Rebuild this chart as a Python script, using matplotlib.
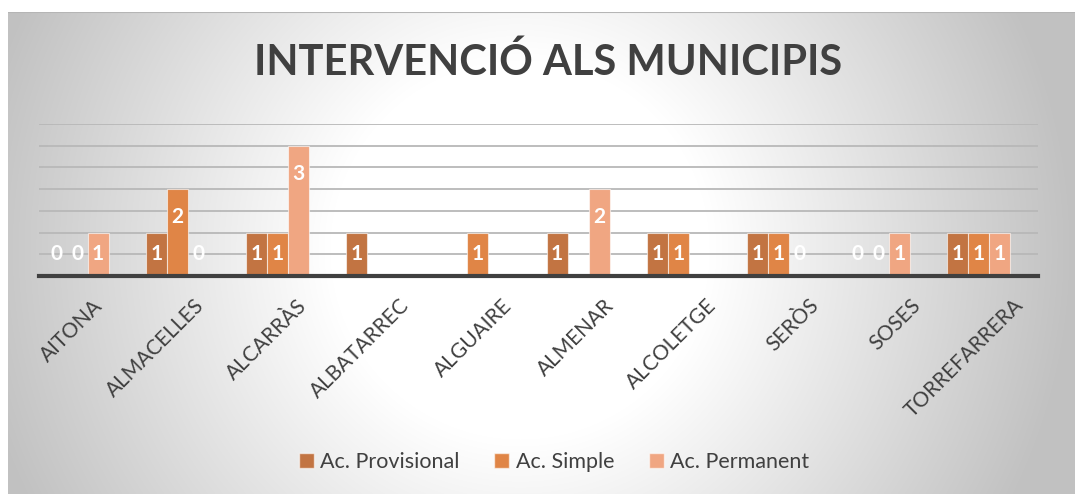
import numpy as np
import matplotlib
matplotlib.use("Agg")
import matplotlib.pyplot as plt
from matplotlib.patches import Patch

plt.rcParams['font.family'] = ['Lato', 'DejaVu Sans']

municipis = ['AITONA', 'ALMACELLES', 'ALCARRÀS', 'ALBATARREC', 'ALGUAIRE',
             'ALMENAR', 'ALCOLETGE', 'SERÒS', 'SOSES', 'TORREFARRERA']
# None = cel·la buida
provisional = [0, 1, 1, 1, None, 1, 1, 1, 0, 1]
simple = [0, 2, 1, None, 1, None, 1, 1, 0, 1]
permanent = [1, 0, 3, None, None, 2, None, 0, 1, 1]

series = [('Ac. Provisional', provisional, '#c27442'),
          ('Ac. Simple', simple, '#e08546'),
          ('Ac. Permanent', permanent, '#f0a682')]

W, H = 1075, 494
fig = plt.figure(figsize=(W / 100, H / 100), dpi=100)

# fons amb degradat radial
bg = fig.add_axes([8 / W, 0, 1 - 8 / W, 1 - 12 / H], zorder=-2)
yy, xx = np.mgrid[0:482, 8:1075]
d = np.hypot(xx - 520, (yy + 12) - 250)
t = np.clip((d - 190) / 360, 0, 1)
edge = 0.76
img = 1 - t * (1 - edge)
bg.imshow(np.dstack([img, img, img]), extent=[0, 1, 0, 1], aspect='auto', origin='upper')
bg.axhline(1, color='#b5b5b5', lw=1.5)
bg.set_axis_off()

ax = fig.add_axes([39 / W, 1 - 276 / H, 999 / W, 152 / H])
ax.set_facecolor('none')

x = np.arange(len(municipis))
bw = 0.21
for i, (name, vals, col) in enumerate(series):
    pos = x + (i - 1) * bw
    hv = [v if v is not None else 0 for v in vals]
    ax.bar(pos, hv, width=bw, color=col, edgecolor=(1, 1, 1, 0.6), linewidth=0.8, zorder=3, label=name)
    for p, v in zip(pos, vals):
        if v is None:
            continue
        ly = v - 0.65 if v >= 2 else 0.5
        ax.text(p, ly, str(v), ha='center', va='center', color='white',
                fontsize=15, fontweight='bold', zorder=4)

ax.set_xlim(-0.38, 9.59)
ax.set_ylim(0, 3.5)
ax.set_yticks(np.arange(0.5, 3.51, 0.5))
ax.yaxis.grid(True, color='#b8b8b8', lw=1.3, zorder=0)
ax.set_axisbelow(True)
ax.tick_params(axis='y', left=False, labelleft=False)
ax.tick_params(axis='x', length=0, pad=14)
for s in ['top', 'right', 'left']:
    ax.spines[s].set_visible(False)
ax.spines['bottom'].set_color('#404040')
ax.spines['bottom'].set_linewidth(3)
ax.spines['bottom'].set_zorder(5)

# les etiquetes girades queden una mica desplaçades cap a la dreta
ax.set_xticks(np.linspace(0.15, 9.34, len(municipis)))
ax.set_xticklabels(municipis, rotation=45, ha='right', va='top',
                   rotation_mode='anchor', fontsize=15, color='#404040')

fig.text(548 / W, 1 - 62 / H, 'INTERVENCIÓ ALS MUNICIPIS', ha='center', va='center',
         fontsize=30, fontweight='bold', color='#404040')

handles = [Patch(facecolor=c, edgecolor=(1, 1, 1, 0.6)) for _, _, c in series]
fig.legend(handles, [n for n, _, _ in series], loc='center', bbox_to_anchor=(554 / W, 1 - 462 / H),
           ncol=3, frameon=False, fontsize=15.5, labelcolor='#404040',
           handlelength=0.7, handleheight=0.7, handletextpad=0.3, columnspacing=1.6)

fig.savefig('out.png', dpi=100)
